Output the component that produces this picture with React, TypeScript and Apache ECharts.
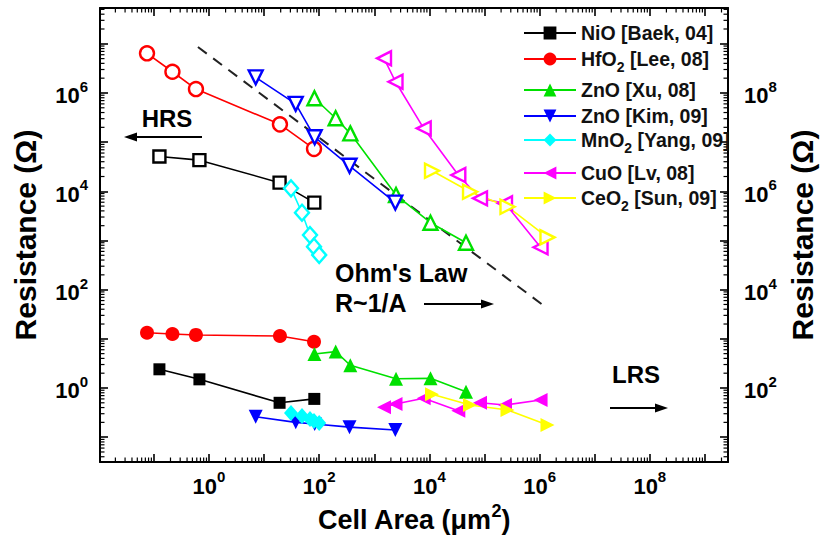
import React, { useEffect, useRef } from "react";
import * as echarts from "echarts";

const FONT = '"Liberation Sans", Arial, Helvetica, sans-serif';

// Axis ranges in decades (log10 units)
const X_LOG_MIN = -1.978;
const X_LOG_MAX = 9.419;
const Y_LOG_MIN = -1.505;
const Y_LOG_MAX = 7.728;
const RIGHT_AXIS_OFFSET = 2; // right axis = left axis x 100

// ---- data (cell area in um^2, resistance in ohm) ----
const nioArea = [0.126, 0.67, 19.1, 81.5];
const nioHRS = [5.1e4, 4.3e4, 1.5e4, 5.9e3];
const nioLRS = [2.4, 1.5, 0.5, 0.6];

const hfoArea = [0.075, 0.217, 0.58, 19.4, 80.5];
const hfoHRS = [6.4e6, 2.7e6, 1.2e6, 2.3e5, 7.3e4];
const hfoLRS = [13.3, 12.5, 12.0, 11.4, 8.7];

const znoXuArea = [82, 199, 367, 2480, 10470, 46150];
const znoXuHRS = [7.8e5, 3.06e5, 1.51e5, 8400, 2300, 900];
const znoXuLRS = [4.9, 5.5, 2.9, 1.54, 1.57, 0.84];

const znoKimArea = [7.04, 37.5, 82.8, 355, 2405];
const znoKimHRS = [2.08e6, 6.0e5, 1.26e5, 3.3e4, 5.9e3];
const znoKimLRS = [0.26, 0.2, 0.185, 0.16, 0.14];

const mnoArea = [30.8, 48.7, 68.1, 80.5, 100];
const mnoHRS = [1.15e4, 3670, 1290, 750, 507];
const mnoLRS = [0.31, 0.27, 0.234, 0.213, 0.194];

// CuO and CeO2 are read on the right-hand axis
const cuoArea = [1500, 2425, 7880, 33450, 82800, 235500, 1.04e6];
const cuoHRS = [5.07e8, 1.69e8, 1.91e7, 2.15e6, 7.2e5, 5.7e5, 7.3e4];
const cuoLRS = [40.5, 47.3, 61.8, 34.5, 50.2, 45.1, 57.0];

const ceoArea = [11150, 54600, 261400, 1.39e6];
const ceoHRS = [2.62e6, 9.8e5, 4.86e5, 1.16e5];
const ceoLRS = [74.5, 45.1, 35.7, 17.7];

// Ohm's law guide line (endpoints)
const ohmArea = [0.63, 1.15e6];
const ohmR = [8.6e6, 48.7];

const legendNames = [
  "NiO [Baek, 04]",
  "HfO2 [Lee, 08]",
  "ZnO [Xu, 08]",
  "ZnO [Kim, 09]",
  "MnO2 [Yang, 09]",
  "CuO [Lv, 08]",
  "CeO2 [Sun, 09]",
];

const minorMultipliers = [2, 3, 4, 5, 6, 7, 8, 9];

type Mat = {
  name: string;
  area: number[];
  hrs: number[];
  lrs: number[];
  color: string;
  symbol: string;
  rotate: number;
  size: number | number[];
  yAxisIndex: number;
};

const materials: Mat[] = [
  { name: legendNames[0], area: nioArea, hrs: nioHRS, lrs: nioLRS, color: "#000000", symbol: "rect", rotate: 0, size: 12, yAxisIndex: 0 },
  { name: legendNames[1], area: hfoArea, hrs: hfoHRS, lrs: hfoLRS, color: "#ff0000", symbol: "circle", rotate: 0, size: 14, yAxisIndex: 0 },
  { name: legendNames[2], area: znoXuArea, hrs: znoXuHRS, lrs: znoXuLRS, color: "#00e000", symbol: "triangle", rotate: 0, size: 14, yAxisIndex: 0 },
  { name: legendNames[3], area: znoKimArea, hrs: znoKimHRS, lrs: znoKimLRS, color: "#0000ff", symbol: "triangle", rotate: 180, size: 14, yAxisIndex: 0 },
  { name: legendNames[4], area: mnoArea, hrs: mnoHRS, lrs: mnoLRS, color: "#00ffff", symbol: "diamond", rotate: 0, size: [14, 16], yAxisIndex: 0 },
  { name: legendNames[5], area: cuoArea, hrs: cuoHRS, lrs: cuoLRS, color: "#ff00ff", symbol: "triangle", rotate: 90, size: 14, yAxisIndex: 1 },
  { name: legendNames[6], area: ceoArea, hrs: ceoHRS, lrs: ceoLRS, color: "#ffff00", symbol: "triangle", rotate: -90, size: 14, yAxisIndex: 1 },
];

const legendRowCenters = [33, 59, 90, 116, 140, 173, 198];

const lg = (v: number) => Math.log10(v);

function isEvenInt(v: number) {
  const r = Math.round(v);
  return Math.abs(v - r) < 1e-6 && r % 2 === 0;
}

function minorTicks(lo: number, hi: number) {
  const out: number[] = [];
  for (let d = Math.floor(lo) - 1; d <= Math.ceil(hi); d++) {
    for (const m of minorMultipliers) {
      const v = d + Math.log10(m);
      if (v > lo && v < hi) out.push(v);
    }
  }
  return out;
}

const tickRich = {
  b: { fontFamily: FONT, fontWeight: "bold", fontSize: 22, color: "#000", lineHeight: 28, verticalAlign: "bottom" },
  s: { fontFamily: FONT, fontWeight: "bold", fontSize: 15, color: "#000", lineHeight: 11, verticalAlign: "top" },
};

const powLabel = (v: number) => (isEvenInt(v) ? `{b|10}{s|${Math.round(v)}}` : "");

const frameLine = { show: true, onZero: false, lineStyle: { color: "#000", width: 2 } };
const majorTick = { show: true, inside: true, length: 8, lineStyle: { color: "#000", width: 1.6 } };

function buildOption() {
  const series: any[] = [];

  const xMinor = minorTicks(X_LOG_MIN, X_LOG_MAX);
  const yMinor = minorTicks(Y_LOG_MIN, Y_LOG_MAX);

  series.push({
    type: "custom",
    name: "xminor",
    silent: true,
    clip: false,
    z: 1,
    encode: { x: 0, y: 1 },
    data: xMinor.map((v) => [v, Y_LOG_MIN]),
    renderItem: (params: any, api: any) => {
      const cs = params.coordSys;
      const x = api.coord([api.value(0), Y_LOG_MIN])[0];
      const st = { stroke: "#000", lineWidth: 1.2 };
      return {
        type: "group",
        children: [
          { type: "line", shape: { x1: x, y1: cs.y + cs.height, x2: x, y2: cs.y + cs.height - 4.5 }, style: st },
          { type: "line", shape: { x1: x, y1: cs.y, x2: x, y2: cs.y + 4.5 }, style: st },
        ],
      };
    },
  });
  series.push({
    type: "custom",
    name: "yminor",
    silent: true,
    clip: false,
    z: 1,
    encode: { x: 0, y: 1 },
    data: yMinor.map((v) => [X_LOG_MIN, v]),
    renderItem: (params: any, api: any) => {
      const cs = params.coordSys;
      const y = api.coord([X_LOG_MIN, api.value(1)])[1];
      const st = { stroke: "#000", lineWidth: 1.2 };
      return {
        type: "group",
        children: [
          { type: "line", shape: { x1: cs.x, y1: y, x2: cs.x + 4.5, y2: y }, style: st },
          { type: "line", shape: { x1: cs.x + cs.width, y1: y, x2: cs.x + cs.width - 4.5, y2: y }, style: st },
        ],
      };
    },
  });

  series.push({
    type: "line",
    name: "Ohm's law",
    data: ohmArea.map((a, i) => [lg(a), lg(ohmR[i])]),
    symbol: "none",
    lineStyle: { color: "#222", width: 2, type: [11, 8] },
    z: 2,
    silent: true,
  });

  for (const m of materials) {
    const base = {
      type: "line",
      xAxisIndex: 0,
      yAxisIndex: m.yAxisIndex,
      symbol: m.symbol,
      symbolSize: m.size,
      symbolRotate: m.rotate,
      showSymbol: true,
      lineStyle: { color: m.color, width: 1.6 },
      z: 3,
    };
    series.push({
      ...base,
      name: m.name + " HRS",
      data: m.area.map((a, i) => [lg(a), lg(m.hrs[i])]),
      itemStyle: { color: "#ffffff", borderColor: m.color, borderWidth: 2.4 },
    });
    series.push({
      ...base,
      name: m.name,
      data: m.area.map((a, i) => [lg(a), lg(m.lrs[i])]),
      itemStyle: { color: m.color, borderColor: m.color, borderWidth: 0 },
    });
  }

  const legendFormatter = (name: string) => {
    const parts = name.split("2 [");
    if (parts.length === 2) return `{t|${parts[0]}}{sub|2}{t| [${parts[1]}}`;
    return `{t|${name}}`;
  };

  const legend = legendNames.map((n, i) => ({
    data: [n],
    orient: "vertical",
    left: 523,
    top: legendRowCenters[i] - 10,
    padding: 0,
    itemWidth: 52,
    itemHeight: 16,
    itemGap: 0,
    selectedMode: false,
    formatter: legendFormatter,
    textStyle: {
      fontFamily: FONT,
      fontWeight: "bold",
      fontSize: 19.5,
      color: "#111",
      rich: {
        t: { fontFamily: FONT, fontWeight: "bold", fontSize: 19.5, color: "#111", lineHeight: 30 },
        sub: { fontFamily: FONT, fontWeight: "bold", fontSize: 14, color: "#111", lineHeight: 16, verticalAlign: "bottom" },
      },
    },
  }));

  const annFont = (size: number) => ({ fontFamily: FONT, fontWeight: "bold", fontSize: size, fill: "#000" });

  const graphic = [
    { type: "text", x: 167, y: 118, style: { text: "HRS", align: "center", verticalAlign: "middle", ...annFont(24) } },
    { type: "line", shape: { x1: 202, y1: 137, x2: 132, y2: 137 }, style: { stroke: "#000", lineWidth: 2 } },
    { type: "polygon", shape: { points: [[124, 137], [137, 132.5], [137, 141.5]] }, style: { fill: "#000" } },

    { type: "text", x: 335, y: 273, style: { text: "Ohm's Law", align: "left", verticalAlign: "middle", ...annFont(25) } },
    { type: "text", x: 335, y: 303, style: { text: "R~1/A", align: "left", verticalAlign: "middle", ...annFont(25) } },
    { type: "line", shape: { x1: 424, y1: 304, x2: 486, y2: 304 }, style: { stroke: "#000", lineWidth: 2 } },
    { type: "polygon", shape: { points: [[494, 304], [481, 299.5], [481, 308.5]] }, style: { fill: "#000" } },

    { type: "text", x: 636, y: 374, style: { text: "LRS", align: "center", verticalAlign: "middle", ...annFont(24) } },
    { type: "line", shape: { x1: 610, y1: 408, x2: 660, y2: 408 }, style: { stroke: "#000", lineWidth: 2 } },
    { type: "polygon", shape: { points: [[668, 408], [655, 403.5], [655, 412.5]] }, style: { fill: "#000" } },
  ];

  const yNameStyle = { fontFamily: FONT, fontWeight: "bold", fontSize: 30, color: "#000" };

  return {
    animation: false,
    backgroundColor: "#ffffff",
    grid: { left: 100, right: 96, top: 8, bottom: 73, containLabel: false, outerBoundsMode: "none" },
    xAxis: [
      {
        type: "value",
        position: "bottom",
        min: X_LOG_MIN,
        max: X_LOG_MAX,
        splitNumber: 11,
        axisLine: frameLine,
        axisTick: majorTick,
        splitLine: { show: false },
        axisLabel: { show: true, interval: 0, margin: 7, formatter: powLabel, rich: tickRich, showMinLabel: false, showMaxLabel: false },
        name: "{n|Cell Area (μm}{p|2}{n|)}",
        nameLocation: "middle",
        nameGap: 36,
        nameTextStyle: {
          fontFamily: FONT,
          fontWeight: "bold",
          fontSize: 27,
          color: "#000",
          rich: {
            n: { fontFamily: FONT, fontWeight: "bold", fontSize: 27, color: "#000", lineHeight: 32, verticalAlign: "bottom" },
            p: { fontFamily: FONT, fontWeight: "bold", fontSize: 18, color: "#000", lineHeight: 14, verticalAlign: "top" },
          },
        },
      },
      {
        type: "value",
        position: "top",
        min: X_LOG_MIN,
        max: X_LOG_MAX,
        splitNumber: 11,
        axisLine: frameLine,
        axisTick: majorTick,
        splitLine: { show: false },
        axisLabel: { show: false },
      },
    ],
    yAxis: [
      {
        type: "value",
        position: "left",
        min: Y_LOG_MIN,
        max: Y_LOG_MAX,
        splitNumber: 9,
        axisLine: frameLine,
        axisTick: majorTick,
        splitLine: { show: false },
        axisLabel: { show: true, interval: 0, margin: 12, formatter: powLabel, rich: tickRich, showMinLabel: false, showMaxLabel: false },
        name: "Resistance (Ω)",
        nameLocation: "middle",
        nameRotate: 90,
        nameGap: 60,
        nameTextStyle: yNameStyle,
      },
      {
        type: "value",
        position: "right",
        min: Y_LOG_MIN + RIGHT_AXIS_OFFSET,
        max: Y_LOG_MAX + RIGHT_AXIS_OFFSET,
        splitNumber: 9,
        axisLine: frameLine,
        axisTick: majorTick,
        splitLine: { show: false },
        axisLabel: { show: true, interval: 0, margin: 16, formatter: powLabel, rich: tickRich, showMinLabel: false, showMaxLabel: false },
        name: "Resistance (Ω)",
        nameLocation: "middle",
        nameRotate: 90,
        nameGap: 56,
        nameTextStyle: yNameStyle,
      },
    ],
    legend,
    tooltip: { show: false },
    graphic,
    series,
  };
}

export default function App() {
  const ref = useRef<HTMLDivElement>(null);
  useEffect(() => {
    document.body.style.margin = "0";
    if (!ref.current) return;
    const chart = echarts.init(ref.current, undefined, { renderer: "svg" });
    chart.setOption(buildOption() as any);
    return () => chart.dispose();
  }, []);
  return (
    <div style={{ position: "fixed", left: 0, top: 0, width: 824, height: 535, background: "#fff" }}>
      <div ref={ref} style={{ width: 824, height: 535 }} />
    </div>
  );
}
